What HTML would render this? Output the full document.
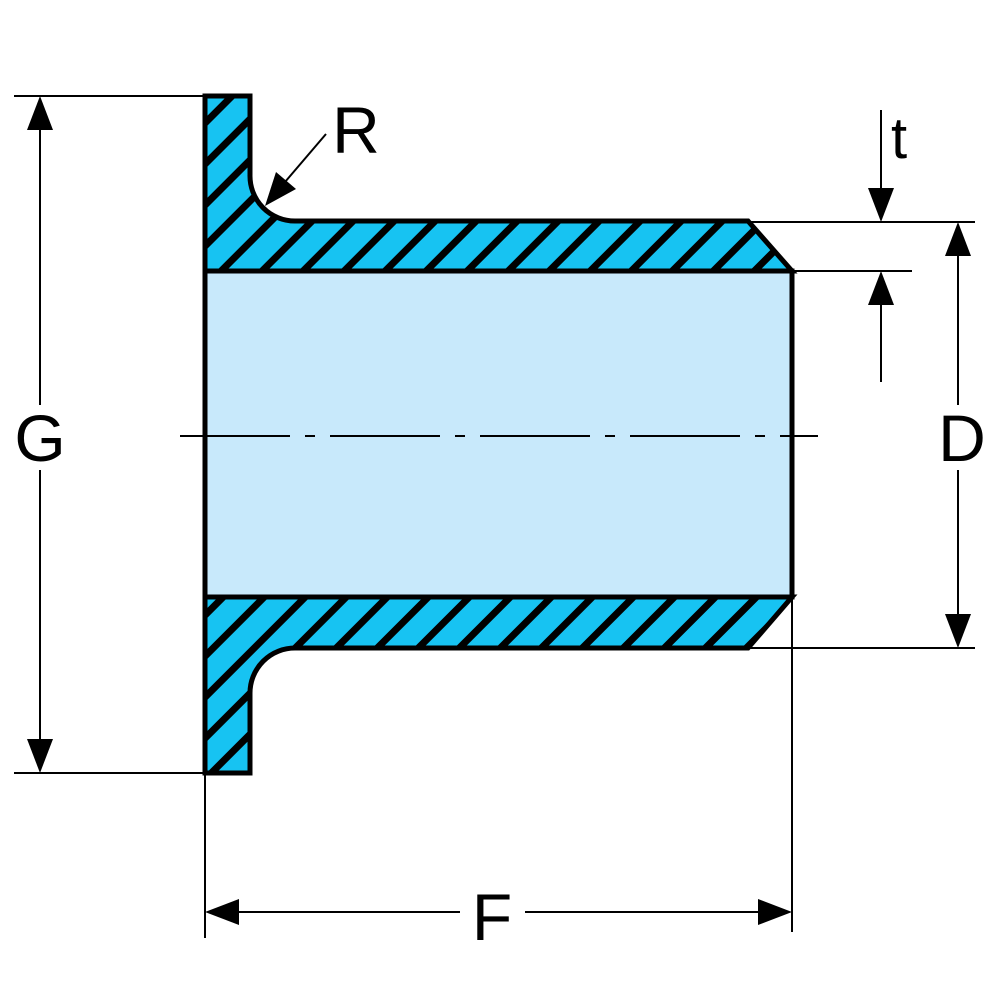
<!DOCTYPE html>
<html><head><style>html,body{margin:0;padding:0;background:#fff}</style></head>
<body>
<svg width="1000" height="1000" viewBox="0 0 1000 1000" xmlns="http://www.w3.org/2000/svg">
<defs>
<pattern id="h" width="29" height="29" patternUnits="userSpaceOnUse" patternTransform="rotate(45)">
<rect width="29" height="29" fill="#17c3f2"/>
<line x1="0" y1="0" x2="0" y2="29" stroke="#000" stroke-width="7"/>
<line x1="29" y1="0" x2="29" y2="29" stroke="#000" stroke-width="7"/>
</pattern>
</defs>
<rect x="205" y="271" width="587" height="326" fill="#c8e9fb" stroke="#000" stroke-width="5"/>
<path d="M205,96 H250 V175 A45,45 0 0 0 295,221 H748 L792,271 H205 Z" fill="url(#h)" stroke="#000" stroke-width="5" stroke-linejoin="miter"/>
<path d="M205,597 H792 L748,648 H295 A45,45 0 0 0 250,693 V773 H205 Z" fill="url(#h)" stroke="#000" stroke-width="5"/>
<line x1="180" y1="436" x2="818" y2="436" stroke="#000" stroke-width="2" stroke-dasharray="110,15,10,15"/>
<g stroke="#000" stroke-width="2" fill="none">
<line x1="14" y1="96" x2="205" y2="96"/>
<line x1="14" y1="773" x2="205" y2="773"/>
<line x1="40" y1="120" x2="40" y2="405"/>
<line x1="40" y1="470" x2="40" y2="750"/>
<line x1="748" y1="222" x2="975" y2="222"/>
<line x1="748" y1="648" x2="975" y2="648"/>
<line x1="792" y1="271" x2="912" y2="271"/>
<line x1="958" y1="245" x2="958" y2="405"/>
<line x1="958" y1="470" x2="958" y2="625"/>
<line x1="881" y1="110" x2="881" y2="200"/>
<line x1="881" y1="295" x2="881" y2="382"/>
<line x1="205" y1="775" x2="205" y2="938"/>
<line x1="792" y1="597" x2="792" y2="932"/>
<line x1="228" y1="912" x2="460" y2="912"/>
<line x1="525" y1="912" x2="770" y2="912"/>
<line x1="326" y1="134" x2="285" y2="182"/>
</g>
<g fill="#000">
<polygon points="40,96 27,130 53,130"/>
<polygon points="40,773 27,739 53,739"/>
<polygon points="958,222 945,256 971,256"/>
<polygon points="958,648 945,614 971,614"/>
<polygon points="881,222 868,188 894,188"/>
<polygon points="881,271 868,305 894,305"/>
<polygon points="205,912 239,899 239,925"/>
<polygon points="792,912 758,899 758,925"/>
<polygon points="265,206 276,172 296,189"/>
</g>
<g font-family="Liberation Sans, sans-serif" font-size="66" fill="#000" text-anchor="middle">
<text x="40" y="461">G</text>
<text x="962" y="461">D</text>
<text x="492" y="940">F</text>
<text x="356" y="153">R</text>
<text x="899" y="158" font-size="58">t</text>
</g>
</svg>
</body></html>
